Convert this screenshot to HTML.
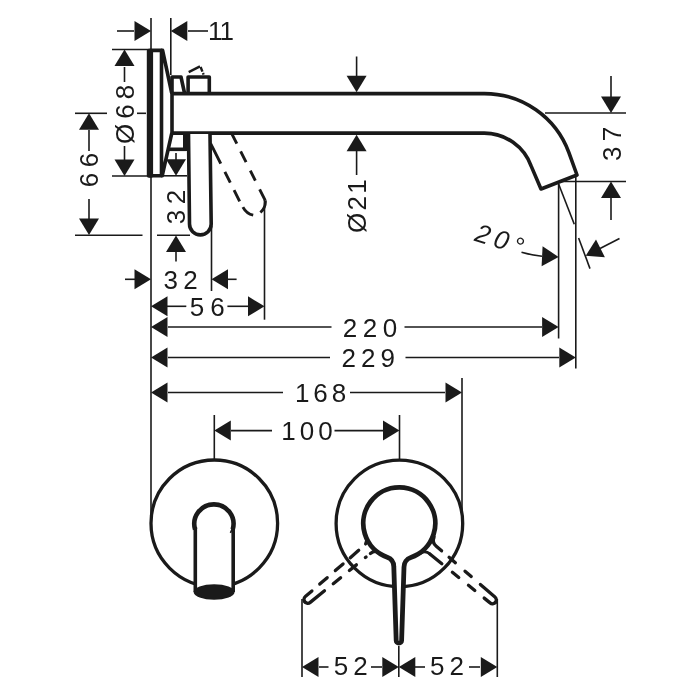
<!DOCTYPE html>
<html><head><meta charset="utf-8"><title>Drawing</title>
<style>
html,body{margin:0;padding:0;background:#fff;}
svg{display:block;will-change:transform;}
text{font-family:"Liberation Sans",sans-serif;fill:#1a1a1a;}
</style></head><body>
<svg width="700" height="700" viewBox="0 0 700 700">
<rect width="700" height="700" fill="#fff"/>
<line x1="151" y1="18" x2="151" y2="524" stroke="#1a1a1a" stroke-width="1.6" />
<rect x="146.8" y="48.7" width="6.3" height="129" rx="2" fill="#1a1a1a"/>
<path d="M150,50.4 H162.6 L171.6,92.5 M150,175.8 H162.2 L171.6,134 M161.5,50 V176" fill="none" stroke="#1a1a1a" stroke-width="3.6" stroke-linejoin="round" stroke-linecap="round"/>
<path d="M172,93 V77 H181 L184.5,93 M188.1,93 V77 H209.3 V93" fill="none" stroke="#1a1a1a" stroke-width="3.6" stroke-linejoin="round"/>
<path d="M188.7,72.1 L200,66.4" fill="none" stroke="#1a1a1a" stroke-width="2.4"/>
<path d="M200.6,67 L203.6,74.6" fill="none" stroke="#1a1a1a" stroke-width="2.4" stroke-dasharray="5 1.5"/>
<path d="M168,149.3 H186" fill="none" stroke="#1a1a1a" stroke-width="3.6"/>
<rect x="183" y="134" width="6.9" height="17" fill="#1a1a1a"/>
<path d="M172,93.6 H484.3 A90,90 0 0 1 568.9,152.7 L577,175 L541,189 L531.3,166.4 A50,50 0 0 0 484.3,133.1 H172 Z" fill="#fff" stroke="#1a1a1a" stroke-width="3.6" stroke-linejoin="round"/>
<path d="M188.5,134 L189.5,224 A10.8,10.8 0 0 0 211.2,224 L210,134" fill="#fff" stroke="#1a1a1a" stroke-width="3.6" stroke-linejoin="round"/>
<path d="M210.7,143.6 L241.5,205" fill="none" stroke="#1a1a1a" stroke-width="2.9" stroke-dasharray="22.4 9.2 12.1 8.4 12.5 100"/>
<path d="M232.1,134.3 L265.2,200.4" fill="none" stroke="#1a1a1a" stroke-width="2.9" stroke-dasharray="10.5 8.6 12.1 9.5 11.2 9.6 12.5 100"/>
<path d="M242.9,207.1 Q246.5,213.8 253.2,215.2 M260.4,212.5 Q266,207.5 265.3,200.4" fill="none" stroke="#1a1a1a" stroke-width="2.9"/>
<line x1="170.8" y1="18" x2="170.8" y2="75" stroke="#1a1a1a" stroke-width="1.6" />
<line x1="117" y1="31" x2="134" y2="31" stroke="#1a1a1a" stroke-width="1.6" />
<polygon points="151.0,31.0 134.5,41.0 134.5,21.0" fill="#1a1a1a"/>
<line x1="188" y1="31" x2="208" y2="31" stroke="#1a1a1a" stroke-width="1.6" />
<polygon points="170.8,31.0 187.3,21.0 187.3,41.0" fill="#1a1a1a"/>
<text x="220.5" y="39.81" font-size="26" letter-spacing="-1" text-anchor="middle" >11</text>
<line x1="112" y1="49.5" x2="149" y2="49.5" stroke="#1a1a1a" stroke-width="1.6" />
<line x1="112" y1="176" x2="149" y2="176" stroke="#1a1a1a" stroke-width="1.6" />
<line x1="124.5" y1="67" x2="124.5" y2="82" stroke="#1a1a1a" stroke-width="1.6" />
<polygon points="124.5,49.5 134.5,66.0 114.5,66.0" fill="#1a1a1a"/>
<line x1="124.5" y1="146" x2="124.5" y2="160" stroke="#1a1a1a" stroke-width="1.6" />
<polygon points="124.5,176.0 114.5,159.5 134.5,159.5" fill="#1a1a1a"/>
<text x="134.06" y="111.8" font-size="26" letter-spacing="5" text-anchor="middle" transform="rotate(-90 134.06 111.8)" >Ø68</text>
<line x1="75" y1="113.3" x2="107" y2="113.3" stroke="#1a1a1a" stroke-width="1.6" />
<line x1="137" y1="113.3" x2="146" y2="113.3" stroke="#1a1a1a" stroke-width="1.6" />
<line x1="75" y1="235.3" x2="142.5" y2="235.3" stroke="#1a1a1a" stroke-width="1.6" />
<line x1="157" y1="235.3" x2="190" y2="235.3" stroke="#1a1a1a" stroke-width="1.6" />
<line x1="89" y1="130" x2="89" y2="151" stroke="#1a1a1a" stroke-width="1.6" />
<polygon points="89.0,113.3 99.0,129.8 79.0,129.8" fill="#1a1a1a"/>
<line x1="89" y1="199" x2="89" y2="219" stroke="#1a1a1a" stroke-width="1.6" />
<polygon points="89.0,235.0 79.0,218.5 99.0,218.5" fill="#1a1a1a"/>
<text x="98.31" y="167.25" font-size="26" letter-spacing="5.5" text-anchor="middle" transform="rotate(-90 98.31 167.25)" >66</text>
<line x1="163" y1="175.8" x2="187" y2="175.8" stroke="#1a1a1a" stroke-width="1.6" />
<line x1="176" y1="153" x2="176" y2="160" stroke="#1a1a1a" stroke-width="1.6" />
<polygon points="176.0,175.8 166.0,159.3 186.0,159.3" fill="#1a1a1a"/>
<line x1="176" y1="252" x2="176" y2="261.5" stroke="#1a1a1a" stroke-width="1.6" />
<polygon points="176.0,235.5 186.0,252.0 166.0,252.0" fill="#1a1a1a"/>
<text x="185.31" y="204.25" font-size="26" letter-spacing="5.5" text-anchor="middle" transform="rotate(-90 185.31 204.25)" >32</text>
<line x1="211.5" y1="226" x2="211.5" y2="291" stroke="#1a1a1a" stroke-width="1.6" />
<line x1="125" y1="279.3" x2="135" y2="279.3" stroke="#1a1a1a" stroke-width="1.6" />
<polygon points="151.0,279.3 134.5,289.3 134.5,269.3" fill="#1a1a1a"/>
<line x1="228" y1="279.3" x2="236.6" y2="279.3" stroke="#1a1a1a" stroke-width="1.6" />
<polygon points="211.5,279.3 228.0,269.3 228.0,289.3" fill="#1a1a1a"/>
<text x="183.35" y="289.01" font-size="26" letter-spacing="5.5" text-anchor="middle" >32</text>
<line x1="264.5" y1="200" x2="264.5" y2="319.7" stroke="#1a1a1a" stroke-width="1.6" />
<polygon points="151.0,306.3 167.5,296.3 167.5,316.3" fill="#1a1a1a"/>
<polygon points="264.5,306.3 248.0,316.3 248.0,296.3" fill="#1a1a1a"/>
<line x1="167" y1="306.3" x2="186.3" y2="306.3" stroke="#1a1a1a" stroke-width="1.6" />
<line x1="227.4" y1="306.3" x2="248" y2="306.3" stroke="#1a1a1a" stroke-width="1.6" />
<text x="210.2" y="315.91" font-size="26" letter-spacing="6" text-anchor="middle" >56</text>
<line x1="558.6" y1="184" x2="558.6" y2="338.5" stroke="#1a1a1a" stroke-width="1.6" />
<polygon points="151.0,327.0 167.5,317.0 167.5,337.0" fill="#1a1a1a"/>
<polygon points="558.6,327.0 542.1,337.0 542.1,317.0" fill="#1a1a1a"/>
<line x1="168" y1="327" x2="331.5" y2="327" stroke="#1a1a1a" stroke-width="1.6" />
<line x1="404.5" y1="327" x2="542" y2="327" stroke="#1a1a1a" stroke-width="1.6" />
<text x="372.75" y="337.11" font-size="26" letter-spacing="5.5" text-anchor="middle" >220</text>
<line x1="575.8" y1="176" x2="575.8" y2="368.5" stroke="#1a1a1a" stroke-width="1.6" />
<polygon points="151.0,357.5 167.5,347.5 167.5,367.5" fill="#1a1a1a"/>
<polygon points="575.8,357.5 559.3,367.5 559.3,347.5" fill="#1a1a1a"/>
<line x1="168" y1="357.5" x2="330" y2="357.5" stroke="#1a1a1a" stroke-width="1.6" />
<line x1="405.5" y1="357.5" x2="559" y2="357.5" stroke="#1a1a1a" stroke-width="1.6" />
<text x="370.8" y="367.11" font-size="26" letter-spacing="5" text-anchor="middle" >229</text>
<line x1="462" y1="378" x2="462" y2="520" stroke="#1a1a1a" stroke-width="1.6" />
<polygon points="151.0,392.5 167.5,382.5 167.5,402.5" fill="#1a1a1a"/>
<polygon points="462.0,392.5 445.5,402.5 445.5,382.5" fill="#1a1a1a"/>
<line x1="168" y1="392.5" x2="283" y2="392.5" stroke="#1a1a1a" stroke-width="1.6" />
<line x1="350" y1="392.5" x2="445" y2="392.5" stroke="#1a1a1a" stroke-width="1.6" />
<text x="322.6" y="402.21" font-size="26" letter-spacing="4" text-anchor="middle" >168</text>
<line x1="214.3" y1="415" x2="214.3" y2="459" stroke="#1a1a1a" stroke-width="1.6" />
<line x1="399.5" y1="415" x2="399.5" y2="459" stroke="#1a1a1a" stroke-width="1.6" />
<polygon points="214.3,430.6 230.8,420.6 230.8,440.6" fill="#1a1a1a"/>
<polygon points="399.5,430.6 383.0,440.6 383.0,420.6" fill="#1a1a1a"/>
<line x1="231" y1="430.6" x2="272" y2="430.6" stroke="#1a1a1a" stroke-width="1.6" />
<line x1="334.5" y1="430.6" x2="383" y2="430.6" stroke="#1a1a1a" stroke-width="1.6" />
<text x="309.0" y="440.31" font-size="26" letter-spacing="4" text-anchor="middle" >100</text>
<line x1="356.6" y1="56.5" x2="356.6" y2="77" stroke="#1a1a1a" stroke-width="1.6" />
<polygon points="356.6,92.3 346.6,75.8 366.6,75.8" fill="#1a1a1a"/>
<line x1="356.6" y1="150" x2="356.6" y2="175" stroke="#1a1a1a" stroke-width="1.6" />
<polygon points="356.6,134.7 366.6,151.2 346.6,151.2" fill="#1a1a1a"/>
<text x="366.31" y="205.05" font-size="26" letter-spacing="2.3" text-anchor="middle" transform="rotate(-90 366.31 205.05)" >Ø21</text>
<line x1="545" y1="113" x2="626" y2="113" stroke="#1a1a1a" stroke-width="1.6" />
<line x1="560" y1="181.5" x2="626" y2="181.5" stroke="#1a1a1a" stroke-width="1.6" />
<line x1="611" y1="76" x2="611" y2="97" stroke="#1a1a1a" stroke-width="1.6" />
<polygon points="611.0,113.0 601.0,96.5 621.0,96.5" fill="#1a1a1a"/>
<line x1="611" y1="198" x2="611" y2="220" stroke="#1a1a1a" stroke-width="1.6" />
<polygon points="611.0,181.5 621.0,198.0 601.0,198.0" fill="#1a1a1a"/>
<text x="620.61" y="141.15" font-size="26" letter-spacing="5.5" text-anchor="middle" transform="rotate(-90 620.61 141.15)" >37</text>
<line x1="558.6" y1="184" x2="574.3" y2="224.3" stroke="#1a1a1a" stroke-width="1.6" />
<line x1="578.6" y1="238" x2="590" y2="268.6" stroke="#1a1a1a" stroke-width="1.6" />
<polygon points="558.6,257.0 541.6,266.2 542.6,246.2" fill="#1a1a1a"/>
<path d="M521.5,252.3 Q531,255 542,256.2" fill="none" stroke="#1a1a1a" stroke-width="1.6"/>
<polygon points="585.7,255.7 596.0,239.4 604.9,257.3" fill="#1a1a1a"/>
<line x1="600" y1="248.5" x2="619.5" y2="238.5" stroke="#1a1a1a" stroke-width="1.6" />
<text x="473.5" y="240.5" font-size="26" letter-spacing="5" transform="rotate(17 473.5 240.5)" font-style="italic">20<tspan dx="1" dy="1.5" font-style="normal">°</tspan></text>
<circle cx="214.3" cy="523.3" r="63.3" fill="none" stroke="#1a1a1a" stroke-width="3.3"/>
<path d="M195.3,592 V523 A18.9,19.6 0 0 1 233.2,523 V592 Z" fill="#fff" stroke="none"/>
<path d="M195.3,592 V527 M233.2,592 V527" fill="none" stroke="#1a1a1a" stroke-width="3.6"/>
<path d="M195.1,529.5 A19.6,19.6 0 1 1 232.7,529.5" fill="none" stroke="#1a1a1a" stroke-width="4.6"/>
<ellipse cx="214.1" cy="592" rx="20.5" ry="7.8" fill="#1a1a1a"/>
<path d="M232.4,528.5 L230.4,532.8" stroke="#1a1a1a" stroke-width="1.6" fill="none"/>
<circle cx="399.4" cy="523.4" r="63.3" fill="none" stroke="#1a1a1a" stroke-width="3.3"/>
<g transform="translate(399.4 522.6) rotate(50)" fill="none" stroke="#1a1a1a" stroke-linecap="round">
<path d="M0,123.4 A3.8,3.8 0 0 1 -3.8,119.6 L-5,42" stroke-width="3.3" stroke-dasharray="14.5 10.4 9.8 10.8 10.2 9.6 11.1 60"/>
<path d="M0,123.4 A3.8,3.8 0 0 0 3.8,119.6 L5,42" stroke-width="3.3" stroke-dasharray="24.2 11.3 9.5 11.3 9 60"/>
<path d="M-10.6,34.4 A8,8 0 0 1 -5,42 L-4.85,52" stroke-width="3.2" stroke-dasharray="7.5 40"/>
<path d="M10.6,34.4 A8,8 0 0 0 5,42 L4.8,54" stroke-width="3.2" stroke-dasharray="10 5.5 1 40"/>
</g>
<g transform="translate(400.9 523.1) rotate(-50)" fill="none" stroke="#1a1a1a" stroke-linecap="round">
<path d="M0,123.4 A3.8,3.8 0 0 1 -3.8,119.6 L-5,42" stroke-width="3.3" stroke-dasharray="13.4 12.1 8.2 12.5 8.2 13.6 60 0"/>
<path d="M0,123.4 A3.8,3.8 0 0 0 3.8,119.6 L5,42" stroke-width="3.3" stroke-dasharray="25.1 12.1 8.2 12.8 8.3 60"/>
<path d="M-10.6,34.4 A8,8 0 0 1 -5,42" stroke-width="2.8"/>
<path d="M10.6,34.4 A8,8 0 0 0 5,42 L4.9,49" stroke-width="3.3"/>
</g>
<path d="M410.8,557.5 A36,36 0 1 0 387.2,557.3 A10,10 0 0 1 393.8,566.7 L396.2,640.5 A2.7,2.7 0 0 0 401.6,640.5 L404,567 A10,10 0 0 1 410.8,557.5 Z" fill="#fff" stroke="#1a1a1a" stroke-width="4.8" stroke-linejoin="round"/>
<line x1="302" y1="599" x2="302" y2="677" stroke="#1a1a1a" stroke-width="1.6" />
<line x1="398.8" y1="646" x2="398.8" y2="677" stroke="#1a1a1a" stroke-width="1.6" />
<line x1="497.3" y1="599" x2="497.3" y2="677" stroke="#1a1a1a" stroke-width="1.6" />
<polygon points="302.0,667.0 318.5,657.0 318.5,677.0" fill="#1a1a1a"/>
<polygon points="398.8,667.0 382.3,677.0 382.3,657.0" fill="#1a1a1a"/>
<polygon points="398.8,667.0 415.3,657.0 415.3,677.0" fill="#1a1a1a"/>
<polygon points="497.3,667.0 480.8,677.0 480.8,657.0" fill="#1a1a1a"/>
<line x1="319" y1="667" x2="328.5" y2="667" stroke="#1a1a1a" stroke-width="1.6" />
<line x1="371" y1="667" x2="382" y2="667" stroke="#1a1a1a" stroke-width="1.6" />
<line x1="415" y1="667" x2="425" y2="667" stroke="#1a1a1a" stroke-width="1.6" />
<line x1="469" y1="667" x2="480" y2="667" stroke="#1a1a1a" stroke-width="1.6" />
<text x="353.2" y="675.21" font-size="26" letter-spacing="5" text-anchor="middle" >52</text>
<text x="449.4" y="675.21" font-size="26" letter-spacing="5" text-anchor="middle" >52</text>
</svg>
</body></html>
